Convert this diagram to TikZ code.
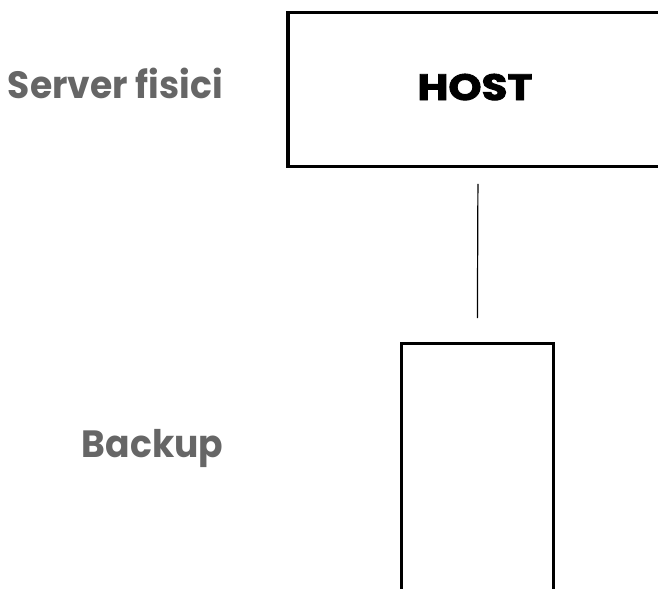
\documentclass[tikz,border=0pt]{standalone}
\usepackage{fontspec}
\setmainfont{Poppins}
\newfontfamily\hostfont{Poppins}[FakeStretch=1.15, FakeBold=2.5]
\newfontfamily\sidefont{Poppins}[FakeStretch=0.95]
\definecolor{labelgray}{RGB}{102,102,102}
\begin{document}
\begin{tikzpicture}[x=0.75pt,y=0.75pt,yscale=-1,xscale=1]
\useasboundingbox (0,0) rectangle (658,589);
\clip (0,0) rectangle (658,589);

% Shape: Rectangle
\node (host) [draw, line width=2.4pt, minimum width=285pt, minimum height=115pt, inner sep=0pt] at (478,89.5) {};
% Shape: Rectangle
\node (backup) [draw, line width=2.4pt, minimum width=114pt, minimum height=225pt, anchor=north, inner sep=0pt] at (477.3,342) {};
% Straight Lines
\draw [line width=0.9pt, shorten <=12pt, shorten >=18pt] (host.south) -- (backup.north);

% Text Node
\node (hostlabel) [anchor=base, inner sep=0pt, font=\hostfont\bfseries\fontsize{27.5}{30}\selectfont] at (475,100) {HOST};
% Text Node
\node (serverlabel) [anchor=base east, inner sep=0pt, text=labelgray, font=\sidefont\bfseries\fontsize{28.5}{30}\selectfont] at (223,98.7) {Server fisici};
% Text Node
\node (backuplabel) [anchor=base east, inner sep=0pt, text=labelgray, font=\sidefont\bfseries\fontsize{28.5}{30}\selectfont] at (223.5,457) {Backup};

\end{tikzpicture}
\end{document}
